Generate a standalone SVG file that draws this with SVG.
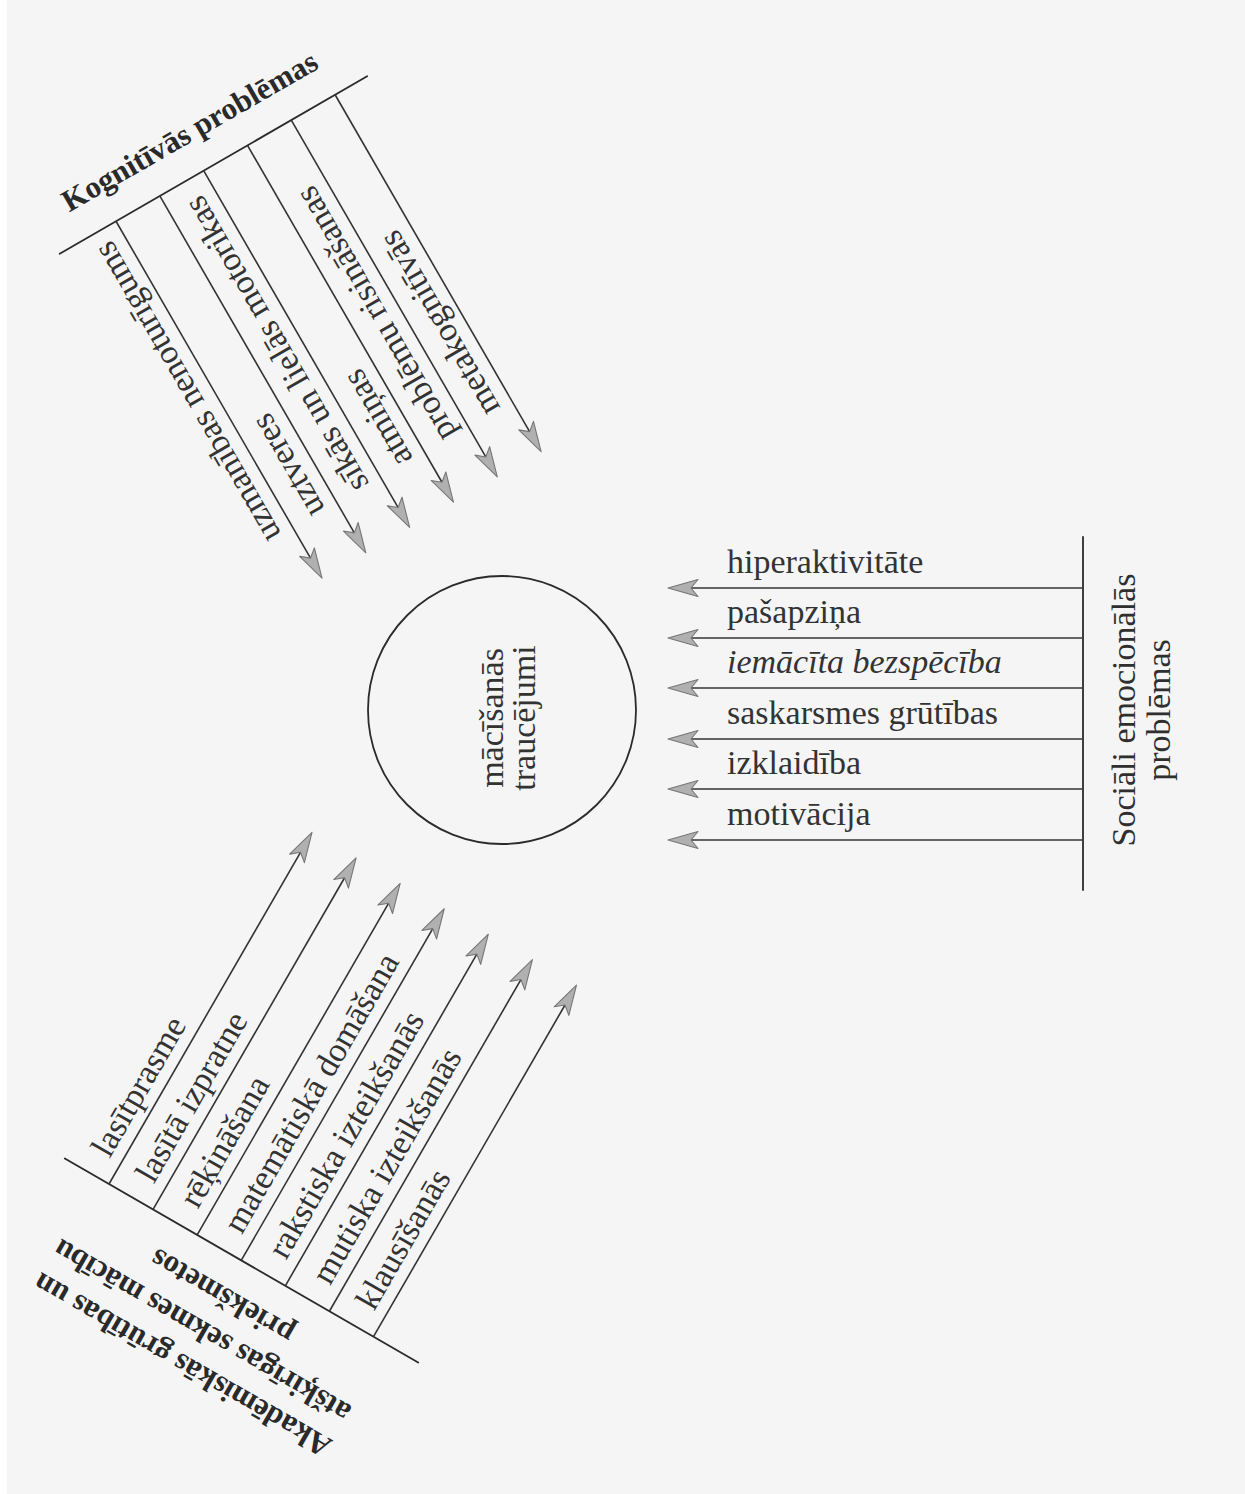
<svg xmlns="http://www.w3.org/2000/svg" width="1245" height="1494" viewBox="0 0 1245 1494">
<defs>
<style>
.ln{stroke:#2b2b2b;stroke-width:1.8;fill:none;stroke-linecap:round}
.ar{stroke:#333;stroke-width:1.6;fill:none;marker-end:url(#ah)}
.lb{font-family:"Liberation Serif","Times New Roman",serif;font-size:34px;fill:#333}
.tt{font-family:"Liberation Serif","Times New Roman",serif;font-size:31px;font-weight:bold;fill:#2a2a2a}
.ttr{font-family:"Liberation Serif","Times New Roman",serif;font-size:34px;fill:#2f2f2f}
</style>
<marker id="ah" viewBox="-32 -12 34 24" markerWidth="34" markerHeight="24" refX="-23" refY="0" orient="auto" markerUnits="userSpaceOnUse">
<path d="M0,0 L-30,-8.5 L-23,0 L-30,8.5 Z" fill="#b0b0b0" stroke="#767676" stroke-width="1.1" stroke-linejoin="round"/>
</marker>
</defs>
<rect x="0" y="0" width="1245" height="1494" fill="#f5f5f6"/>
<rect x="0" y="0" width="7" height="1494" fill="#ffffff"/>

<g id="node-center">
<circle cx="502" cy="710" r="134" class="ln" stroke-width="1.6"/>
<text class="lb" transform="translate(503,718) rotate(-90)" text-anchor="middle">mācīšanās</text>
<text class="lb" transform="translate(535,718) rotate(-90)" text-anchor="middle">traucējumi</text>
</g>

<g id="node-cognitive" transform="translate(117,223) rotate(60)">
<line class="ln" x1="-2" y1="65" x2="-2" y2="-290"/>
<text class="tt" transform="translate(-33,36) rotate(-90)">Kognitīvās problēmas</text>
</g>

<g id="node-academic" transform="translate(109,1184) rotate(-60)">
<line class="ln" x1="0" y1="-51" x2="0" y2="357"/>
<text class="tt" transform="translate(-110,154) rotate(-90)" text-anchor="middle">Akadēmiskās grūtības un</text>
<text class="tt" transform="translate(-71,154) rotate(-90)" text-anchor="middle">atšķirīgas sekmes mācību</text>
<text class="tt" transform="translate(-31,154) rotate(-90)" text-anchor="middle">priekšmetos</text>
</g>

<g id="node-social">
<line class="ln" x1="1083" y1="537" x2="1083" y2="890"/>
<text class="ttr" transform="translate(1135,710) rotate(-90)" text-anchor="middle">Sociāli emocionālās</text>
<text class="ttr" transform="translate(1170,710) rotate(-90)" text-anchor="middle">problēmas</text>
</g>

<g id="connectors">
<g id="cognitive-arrows" transform="translate(117,223) rotate(60)">
<line class="ar" x1="-2" y1="0" x2="387" y2="0"/>
<line class="ar" x1="-2" y1="-50.6" x2="387" y2="-50.6"/>
<line class="ar" x1="-2" y1="-101.2" x2="387" y2="-101.2"/>
<line class="ar" x1="-2" y1="-151.8" x2="387" y2="-151.8"/>
<line class="ar" x1="-2" y1="-202.4" x2="387" y2="-202.4"/>
<line class="ar" x1="-2" y1="-253" x2="387" y2="-253"/>
</g>
<g id="academic-arrows" transform="translate(109,1184) rotate(-60)">
<line class="ar" x1="0" y1="0" x2="383" y2="0"/>
<line class="ar" x1="0" y1="50.9" x2="383" y2="50.9"/>
<line class="ar" x1="0" y1="101.8" x2="383" y2="101.8"/>
<line class="ar" x1="0" y1="152.7" x2="383" y2="152.7"/>
<line class="ar" x1="0" y1="203.6" x2="383" y2="203.6"/>
<line class="ar" x1="0" y1="254.5" x2="383" y2="254.5"/>
<line class="ar" x1="0" y1="305.4" x2="383" y2="305.4"/>
</g>
<g id="social-arrows">
<line class="ar" x1="1082" y1="588" x2="691" y2="588"/>
<line class="ar" x1="1082" y1="638" x2="691" y2="638"/>
<line class="ar" x1="1082" y1="688" x2="691" y2="688"/>
<line class="ar" x1="1082" y1="739" x2="691" y2="739"/>
<line class="ar" x1="1082" y1="789" x2="691" y2="789"/>
<line class="ar" x1="1082" y1="840" x2="691" y2="840"/>
</g>
</g>

<g id="labels-cognitive" transform="translate(117,223) rotate(60)">
<text class="lb" transform="translate(352,13) rotate(180)">uzmanības nenoturīgums</text>
<text class="lb" transform="translate(352,-37.6) rotate(180)">uztveres</text>
<text class="lb" transform="translate(352,-88.2) rotate(180)">sīkās un lielās motorikas</text>
<text class="lb" transform="translate(352,-138.8) rotate(180)">atmiņas</text>
<text class="lb" transform="translate(352,-189.4) rotate(180)">problēmu risināšanas</text>
<text class="lb" transform="translate(352,-240) rotate(180)">metakognitīvās</text>
</g>

<g id="labels-academic" transform="translate(109,1184) rotate(-60)">
<text class="lb" x="22" y="-12">lasītprasme</text>
<text class="lb" x="22" y="38.9">lasītā izpratne</text>
<text class="lb" x="22" y="89.8">rēķināšana</text>
<text class="lb" x="22" y="140.7">matemātiskā domāšana</text>
<text class="lb" x="22" y="191.6">rakstiska izteikšanās</text>
<text class="lb" x="22" y="242.5">mutiska izteikšanās</text>
<text class="lb" x="22" y="293.4">klausīšanās</text>
</g>

<g id="labels-social">
<text class="lb" x="727" y="573">hiperaktivitāte</text>
<text class="lb" x="727" y="623">pašapziņa</text>
<text class="lb" x="727" y="673" font-style="italic">iemācīta bezspēcība</text>
<text class="lb" x="727" y="724">saskarsmes grūtības</text>
<text class="lb" x="727" y="774">izklaidība</text>
<text class="lb" x="727" y="825">motivācija</text>
</g>
</svg>
